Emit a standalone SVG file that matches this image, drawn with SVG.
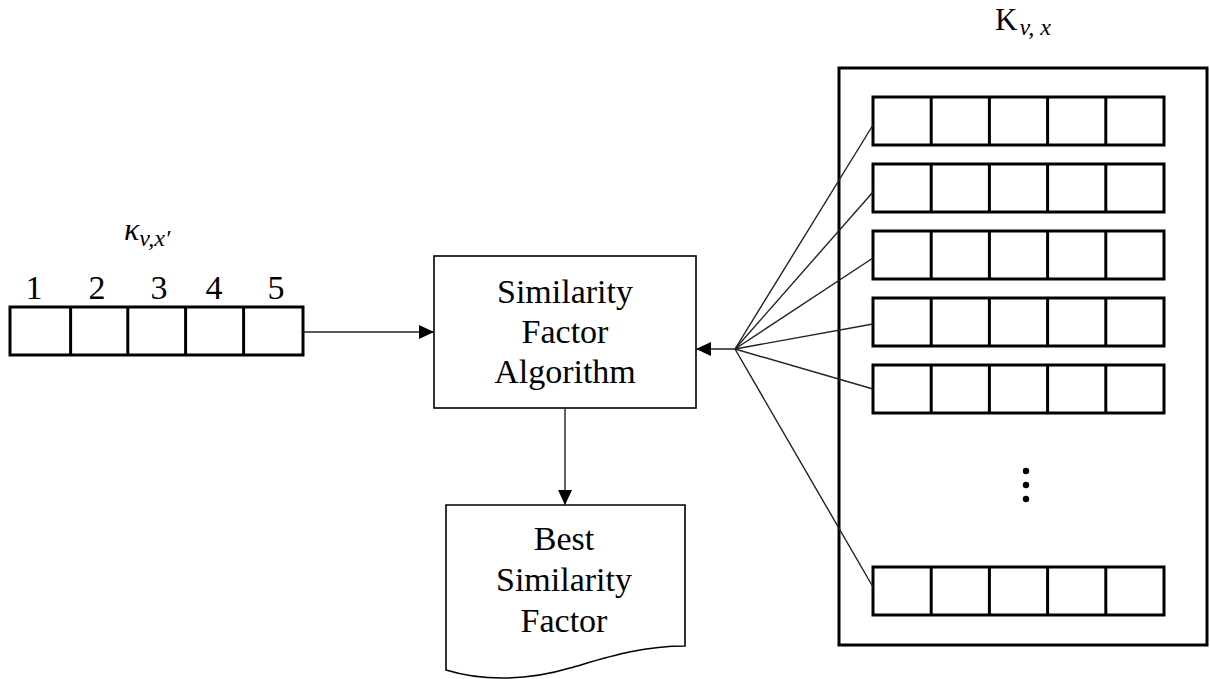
<svg xmlns="http://www.w3.org/2000/svg" width="1210" height="679" viewBox="0 0 1210 679">
  <style>
    .cell { fill: #fff; stroke: #000; stroke-width: 3; }
    .box { fill: #fff; stroke: #000; stroke-width: 1.6; }
    .frame { fill: #fff; stroke: #000; stroke-width: 3; }
    .conn { fill: none; stroke: #222; stroke-width: 1.4; }
    .t { font-family: "Liberation Serif", "Times New Roman", serif; font-size: 34px; fill: #000; text-anchor: middle; }
    .m { font-family: "Liberation Serif", "Times New Roman", serif; fill: #000; }
    .it { font-style: italic; }
  </style>
  <defs>
    <marker id="arrow" viewBox="0 0 15 14" refX="15" refY="7" markerWidth="15" markerHeight="14" markerUnits="userSpaceOnUse" orient="auto">
      <path d="M0,0 L15,7 L0,14 Z" fill="#000"/>
    </marker>
    <!-- one row of five cells -->
    <g id="row">
      <rect class="cell" x="0" y="0" width="291" height="48"/>
      <line class="cell" x1="58.2" y1="0" x2="58.2" y2="48"/>
      <line class="cell" x1="116.4" y1="0" x2="116.4" y2="48"/>
      <line class="cell" x1="174.6" y1="0" x2="174.6" y2="48"/>
      <line class="cell" x1="232.8" y1="0" x2="232.8" y2="48"/>
    </g>
  </defs>

  <rect width="1210" height="679" fill="#fff"/>

  <!-- query vector -->
  <g id="query-vector">
    <text class="m it" x="124" y="240" font-size="32">κ<tspan font-size="24" dy="6">v,x′</tspan></text>
    <text class="t" x="34" y="299">1</text>
    <text class="t" x="97" y="299">2</text>
    <text class="t" x="159" y="299">3</text>
    <text class="t" x="214" y="299">4</text>
    <text class="t" x="276" y="299">5</text>
    <rect class="cell" x="10" y="307" width="293" height="48"/>
    <line class="cell" x1="70.6" y1="307" x2="70.6" y2="355"/>
    <line class="cell" x1="127.8" y1="307" x2="127.8" y2="355"/>
    <line class="cell" x1="185.6" y1="307" x2="185.6" y2="355"/>
    <line class="cell" x1="243.6" y1="307" x2="243.6" y2="355"/>
  </g>

  <!-- similarity algorithm -->
  <g id="algorithm">
    <rect class="box" x="434" y="256" width="262" height="152"/>
    <text class="t" x="565" y="303">Similarity</text>
    <text class="t" x="565" y="343">Factor</text>
    <text class="t" x="565" y="383">Algorithm</text>
  </g>

  <!-- result document -->
  <g id="result">
    <path class="box" d="M446,505 H685 V646 C640,646 605,658 570,668 C530,680 485,682 446,670 Z"/>
    <text class="t" x="564" y="550">Best</text>
    <text class="t" x="564" y="591">Similarity</text>
    <text class="t" x="564" y="632">Factor</text>
  </g>

  <!-- stored vectors -->
  <g id="stored-vectors">
    <text class="m" x="995" y="30" font-size="31">Κ<tspan class="it" font-size="24" dy="5" dx="2">v, x</tspan></text>
    <rect class="frame" x="839" y="68" width="368" height="577"/>
    <use href="#row" x="873" y="97"/>
    <use href="#row" x="873" y="164"/>
    <use href="#row" x="873" y="231"/>
    <use href="#row" x="873" y="298"/>
    <use href="#row" x="873" y="365"/>
    <use href="#row" x="873" y="567"/>
    <circle cx="1026" cy="471" r="3.2" fill="#000"/>
    <circle cx="1026" cy="485" r="3.2" fill="#000"/>
    <circle cx="1026" cy="499" r="3.2" fill="#000"/>
  </g>

  <!-- connectors -->
  <g id="connectors">
    <line class="conn" x1="303" y1="332" x2="434" y2="332" marker-end="url(#arrow)"/>
    <line class="conn" x1="735" y1="349" x2="696" y2="349" marker-end="url(#arrow)"/>
    <line class="conn" x1="565" y1="408" x2="565" y2="505" marker-end="url(#arrow)"/>
    <line class="conn" x1="735" y1="349" x2="873" y2="125"/>
    <line class="conn" x1="735" y1="349" x2="873" y2="192"/>
    <line class="conn" x1="735" y1="349" x2="873" y2="258"/>
    <line class="conn" x1="735" y1="349" x2="873" y2="324"/>
    <line class="conn" x1="735" y1="349" x2="873" y2="389"/>
    <line class="conn" x1="735" y1="349" x2="873" y2="587"/>
  </g>
</svg>
